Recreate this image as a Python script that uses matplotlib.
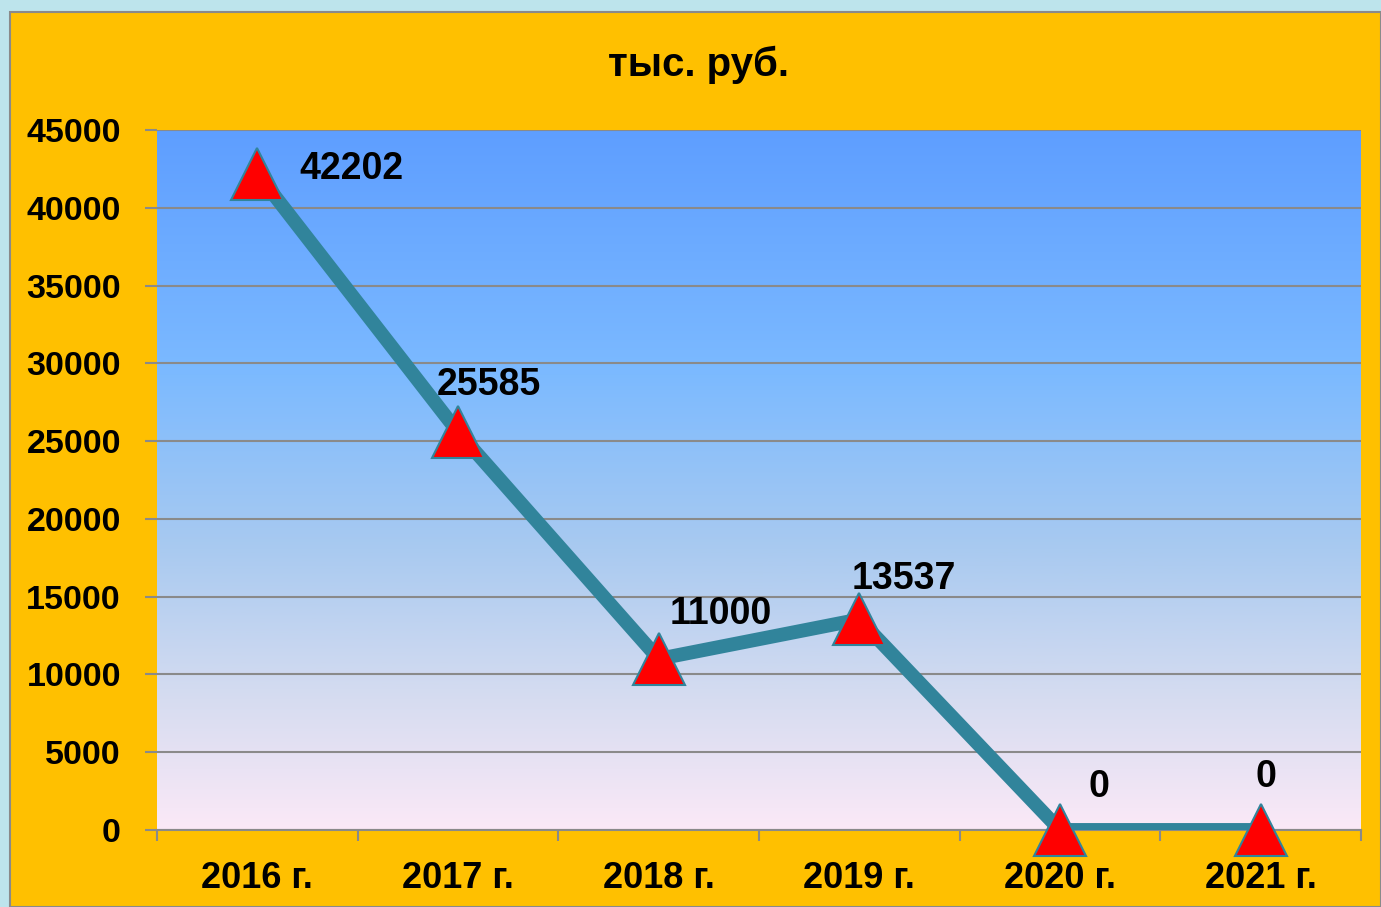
import matplotlib.pyplot as plt
import matplotlib.patches as mpatches
from matplotlib.colors import LinearSegmentedColormap
import numpy as np

years = ['2016 г.', '2017 г.', '2018 г.', '2019 г.', '2020 г.', '2021 г.']
values = [42202, 25585, 11000, 13537, 0, 0]
yticks = [0, 5000, 10000, 15000, 20000, 25000, 30000, 35000, 40000, 45000]
title = 'тыс. руб.'

# label offsets in points (dx, dy)
label_off = [(68, 3), (22, 34), (45, 32), (32, 29), (28, 31), (4, 38)]

plt.rcParams['font.family'] = ['Liberation Sans', 'DejaVu Sans']
plt.rcParams['font.weight'] = 'bold'

fig = plt.figure(figsize=(13.81, 9.07), dpi=100)
fig.patch.set_facecolor('#BDE4EC')

# orange card behind everything
card = mpatches.Rectangle((10 / 1381, 0), 1 - 10 / 1381, 1 - 12 / 907,
                          transform=fig.transFigure, facecolor='#FFC000',
                          edgecolor='#8A8A8A', linewidth=1.5, zorder=-10)
fig.patches.append(card)

ax = fig.add_axes([157 / 1381, 1 - 830 / 907, 1204 / 1381, 700 / 907])
ax.set_facecolor('none')

cmap = LinearSegmentedColormap.from_list('bg', [
    (0.0, '#5E9EFF'), (0.35, '#7CBAFF'), (0.6, '#A9CAF0'),
    (0.8, '#D3DBF0'), (1.0, '#FBE9F7')])
grad = np.linspace(0, 1, 256).reshape(-1, 1)
ax.imshow(grad, cmap=cmap, extent=[0, 1, 0, 1], transform=ax.transAxes,
          aspect='auto', zorder=0)

x = np.arange(len(years))
ax.plot(x, values, color='#31849B', linewidth=10, zorder=3,
        solid_capstyle='butt', solid_joinstyle='miter')
ax.plot(x, values, linestyle='none', marker='^', markersize=37,
        markerfacecolor='#FF0000', markeredgecolor='#31849B',
        markeredgewidth=1.5, zorder=4, clip_on=False)

for xi, v, (dx, dy) in zip(x, values, label_off):
    ax.annotate(str(v), (xi, v), xytext=(dx, dy), textcoords='offset points',
                ha='center', va='center', fontsize=27, fontweight='bold',
                color='black', zorder=5, annotation_clip=False)

ax.set_xlim(-0.5, len(years) - 0.5)
ax.set_ylim(0, 45000)
ax.set_yticks(yticks)
ax.set_yticklabels([str(t) for t in yticks], fontsize=24.5, fontweight='bold')
ax.set_xticks(x)
ax.set_xticklabels(years, fontsize=26, fontweight='bold')
ax.set_xticks(np.arange(-0.5, len(years)), minor=True)
ax.tick_params(axis='x', which='major', length=0, pad=22)
ax.tick_params(axis='x', which='minor', length=8, width=1.5, color='#8A8A8A')
ax.tick_params(axis='y', length=9, width=1.5, color='#8A8A8A', pad=17)

ax.grid(axis='y', color='#8A8A8A', linewidth=1.5, zorder=1)
ax.set_axisbelow(True)
for s in ['left', 'right', 'top']:
    ax.spines[s].set_visible(False)
ax.spines['bottom'].set_color('#8A8A8A')
ax.spines['bottom'].set_linewidth(1.5)

fig.text(699 / 1381, 1 - 65 / 907, title, ha='center', va='center',
         fontsize=29, fontweight='bold')

fig.savefig('out.png', dpi=100, facecolor=fig.get_facecolor())
